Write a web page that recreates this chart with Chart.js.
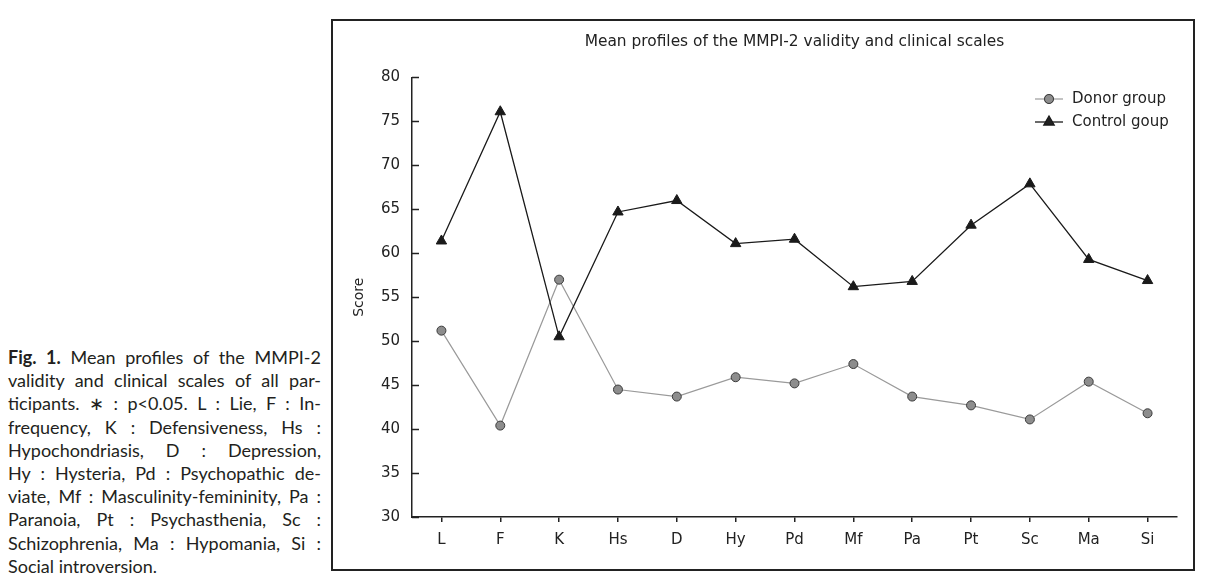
<!DOCTYPE html>
<html>
<head>
<meta charset="utf-8">
<script src="https://cdn.jsdelivr.net/npm/chart.js@4.4.0/dist/chart.umd.min.js"></script>
<style>
  body { margin: 0; background: #fff; width: 1208px; height: 587px; overflow: hidden; position: relative; }
  #caption { position: absolute; left: 8px; top: 346px; width: 313px; font-family: 'Lato', sans-serif; font-size: 18px; line-height: 23.2px; color: #231f20; }
  #caption div { text-align: justify; text-align-last: justify; white-space: nowrap; }
  #caption div.last { text-align-last: left; }
  #frame { position: absolute; left: 331px; top: 19px; width: 864px; height: 552px; box-sizing: border-box; border: 2px solid #222; }
  #wrap { position: absolute; left: 333px; top: 21px; width: 859px; height: 547px; }
</style>
</head>
<body>
<div id="caption">
  <div><b>Fig. 1.</b> Mean profiles of the MMPI-2</div>
  <div>validity and clinical scales of all par-</div>
  <div>ticipants. ∗ : p&lt;0.05. L : Lie, F : In-</div>
  <div>frequency, K : Defensiveness, Hs :</div>
  <div>Hypochondriasis, D : Depression,</div>
  <div>Hy : Hysteria, Pd : Psychopathic de-</div>
  <div>viate, Mf : Masculinity-femininity, Pa :</div>
  <div>Paranoia, Pt : Psychasthenia, Sc :</div>
  <div>Schizophrenia, Ma : Hypomania, Si :</div>
  <div class="last">Social introversion.</div>
</div>
<div id="frame"></div>
<div id="wrap"><canvas id="myChart" width="859" height="547"></canvas></div>
<script>
const scales = ['L', 'F', 'K', 'Hs', 'D', 'Hy', 'Pd', 'Mf', 'Pa', 'Pt', 'Sc', 'Ma', 'Si'];
const donorGroup = [51.2, 40.4, 57.0, 44.5, 43.7, 45.9, 45.2, 47.4, 43.7, 42.7, 41.1, 45.4, 41.8];
const controlGroup = [61.4, 76.1, 50.5, 64.7, 66.0, 61.1, 61.6, 56.2, 56.8, 63.2, 67.9, 59.3, 56.9];
const yTicks = [30, 35, 40, 45, 50, 55, 60, 65, 70, 75, 80];

const FONT = 'DejaVu Sans';
const INK = '#222';

// y ticks point inward, into the plot
const innerTicks = {
    id: 'innerTicks',
    afterDraw(chart) {
        const ctx = chart.ctx;
        const y = chart.scales.y;
        const left = chart.chartArea.left;
        ctx.save();
        ctx.strokeStyle = INK;
        ctx.lineWidth = 1.5;
        yTicks.forEach(function(v) {
            const py = Math.round(y.getPixelForValue(v)) + 0.5;
            ctx.beginPath();
            ctx.moveTo(left, py);
            ctx.lineTo(left + 7, py);
            ctx.stroke();
        });
        ctx.restore();
    }
};

// legend in the top right corner, stacked
const cornerLegend = {
    id: 'cornerLegend',
    afterDraw(chart) {
        const ctx = chart.ctx;
        const x0 = 702;
        let yy = 78;
        ctx.save();
        ctx.font = '15px "' + FONT + '"';
        ctx.textBaseline = 'middle';
        chart.data.datasets.slice().sort((a, b) => b.order - a.order).forEach(function(ds) {
            ctx.strokeStyle = ds.borderColor;
            ctx.lineWidth = ds.borderWidth;
            ctx.beginPath();
            ctx.moveTo(x0, yy);
            ctx.lineTo(x0 + 28, yy);
            ctx.stroke();
            Chart.helpers.drawPoint(ctx, {
                pointStyle: ds.pointStyle,
                radius: ds.pointRadius,
                borderWidth: ds.pointBorderWidth,
                rotation: 0
            }, x0 + 14, yy);
            ctx.fillStyle = ds.pointBackgroundColor;
            ctx.strokeStyle = ds.pointBorderColor;
            ctx.lineWidth = ds.pointBorderWidth;
            ctx.beginPath();
            if (ds.pointStyle === 'circle') {
                ctx.arc(x0 + 14, yy, ds.pointRadius, 0, Math.PI * 2);
            }
            ctx.fill();
            if (ds.pointStyle === 'circle') ctx.stroke();
            ctx.fillStyle = INK;
            ctx.fillText(ds.label, x0 + 37, yy);
            yy += 23;
        });
        ctx.restore();
    }
};

const chartSettings = {
    type: 'line',
    data: {
        labels: scales,
        datasets: [
            {
                label: 'Control goup',
                data: controlGroup,
                order: 0,
                borderColor: '#1a1a1a',
                borderWidth: 1.3,
                pointStyle: 'triangle',
                pointRadius: 6,
                pointBackgroundColor: '#1a1a1a',
                pointBorderColor: '#1a1a1a',
                pointBorderWidth: 1
            },
            {
                label: 'Donor group',
                data: donorGroup,
                order: 1,
                borderColor: '#9a9a9a',
                borderWidth: 1.2,
                pointStyle: 'circle',
                pointRadius: 4.5,
                pointBackgroundColor: '#8d8d8d',
                pointBorderColor: '#3a3a3a',
                pointBorderWidth: 1
            }
        ]
    },
    options: {
        responsive: false,
        animation: false,
        layout: { padding: { top: 0, right: 15, bottom: 0, left: 0 } },
        plugins: {
            legend: { display: false },
            tooltip: { enabled: false },
            title: {
                display: true,
                fullSize: false,
                text: 'Mean profiles of the MMPI-2 validity and clinical scales',
                color: INK,
                font: { family: FONT, size: 15.4, weight: 'normal' },
                padding: { top: 12, bottom: 26 }
            }
        },
        scales: {
            x: {
                offset: true,
                grid: { offset: false, drawOnChartArea: false, drawTicks: true, tickLength: 5, color: INK, lineWidth: 1.5 },
                border: { display: true, color: INK, width: 1.5 },
                ticks: { color: INK, padding: 9, font: { family: FONT, size: 15 } },
                afterFit: function(s) { s.height = 51; }
            },
            y: {
                min: 30,
                max: 80,
                afterBuildTicks: function(s) { s.ticks = yTicks.map(v => ({ value: v })); },
                grid: { drawOnChartArea: false, drawTicks: false },
                border: { display: true, color: INK, width: 1.5 },
                ticks: { color: INK, padding: 12, font: { family: FONT, size: 15 } },
                title: {
                    display: true,
                    text: 'Score',
                    color: INK,
                    font: { family: FONT, size: 14 },
                    padding: { top: 18, bottom: 0 }
                },
                afterFit: function(s) { s.width = 79; }
            }
        }
    },
    plugins: [innerTicks, cornerLegend]
};

window.onload = function() {
    var ctx = document.getElementById("myChart").getContext("2d");
    var myChart = new Chart(ctx, chartSettings);
};
</script>
</body>
</html>
